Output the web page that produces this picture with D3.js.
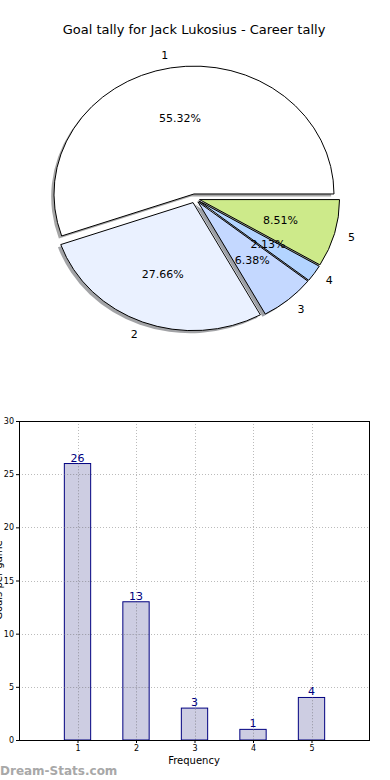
<!DOCTYPE html>
<html><head><meta charset="utf-8">
<script src="https://cdn.jsdelivr.net/npm/d3@7"></script>
<style>body{margin:0;background:#fff}svg{display:block;font-family:"DejaVu Sans",sans-serif}</style>
</head><body>
<script>
const categories = ["1","2","3","4","5"];
const values = [26,13,3,1,4];
const pieColors = ["#ffffff","#eaf1ff","#c4d8ff","#b3d4ff","#cdea8a"];
const yTicks = [0,5,10,15,20,25,30];
const xTicks = [1,2,3,4,5];
const title = "Goal tally for Jack Lukosius - Career tally";

const W=390,H=780;
const svg=d3.select("body").append("svg").attr("width",W).attr("height",H);

svg.append("text").attr("x",194).attr("y",34).attr("text-anchor","middle")
  .attr("font-size",13).text(title);

// ---- Pie ----
const cx=194.8, cy=198.4, rx=140, ry=128, explode=0.035;
const total=d3.sum(values);
const pie=d3.pie().sort(null).startAngle(Math.PI/2).endAngle(Math.PI/2-2*Math.PI);
const arcs=pie(values);
const arc=d3.arc().innerRadius(0).outerRadius(1);
const g=svg.append("g");
arcs.forEach(a=>{
  const mid=(a.startAngle+a.endAngle)/2;
  a.dx=Math.sin(mid); a.dy=-Math.cos(mid);
  a.ox=cx+explode*rx*a.dx; a.oy=cy+explode*ry*a.dy;
});
// shadows
arcs.forEach((a,i)=>{
  const c=d3.rgb(pieColors[i]);
  g.append("path").attr("d",arc(a))
    .attr("transform",`translate(${a.ox-2.8},${a.oy+2.6}) scale(${rx},${ry})`)
    .attr("fill",`rgb(${c.r*0.3},${c.g*0.3},${c.b*0.3})`)
    .attr("fill-opacity",0.5).attr("stroke","none");
});
arcs.forEach((a,i)=>{
  g.append("path").attr("d",arc(a))
    .attr("transform",`translate(${a.ox},${a.oy}) scale(${rx},${ry})`)
    .attr("fill",pieColors[i]).attr("stroke","#000").attr("stroke-width",1)
    .attr("vector-effect","non-scaling-stroke");
});
arcs.forEach((a,i)=>{
  const lx=a.ox+1.1*rx*a.dx, ly=a.oy+1.1*ry*a.dy;
  g.append("text").attr("x",lx).attr("y",ly).attr("dy","0.35em")
    .attr("text-anchor",a.dx>0?"start":"end").attr("font-size",11).text(categories[i]);
  const px=a.ox+0.6*rx*a.dx, py=a.oy+0.6*ry*a.dy;
  g.append("text").attr("x",px).attr("y",py).attr("dy","0.35em")
    .attr("text-anchor","middle").attr("font-size",11)
    .text((values[i]/total*100).toFixed(2)+"%");
});

// ---- Bar chart ----
const L=19,R=370,T=421,B=740;
const x=d3.scaleLinear().domain([0,6]).range([L,R]);
const y=d3.scaleLinear().domain([0,30]).range([B,T]);
const bw=x(0.45)-x(0);
const grid=svg.append("g").attr("stroke","#bbb").attr("stroke-dasharray","1,2").attr("stroke-width",1);
yTicks.forEach(t=>grid.append("line").attr("x1",L).attr("x2",R).attr("y1",Math.round(y(t))+0.5).attr("y2",Math.round(y(t))+0.5));
xTicks.forEach(t=>grid.append("line").attr("y1",T).attr("y2",B).attr("x1",Math.round(x(t))+0.5).attr("x2",Math.round(x(t))+0.5));

svg.append("g").selectAll("rect").data(values).join("rect")
  .attr("x",(d,i)=>x(xTicks[i])-bw/2).attr("width",bw)
  .attr("y",d=>y(d)).attr("height",d=>B-y(d))
  .attr("fill","#8888bb").attr("fill-opacity",0.42).attr("stroke","#000080").attr("stroke-width",1);
const grid2=svg.append("g").attr("stroke","#999").attr("stroke-dasharray","1,2").attr("stroke-opacity",0.5);
xTicks.forEach((t,i)=>grid2.append("line").attr("y1",y(values[i])).attr("y2",B).attr("x1",Math.round(x(t))+0.5).attr("x2",Math.round(x(t))+0.5));
yTicks.forEach(t=>{values.forEach((v,i)=>{ if(v>t && t>0) grid2.append("line").attr("x1",x(xTicks[i])-bw/2).attr("x2",x(xTicks[i])+bw/2).attr("y1",Math.round(y(t))+0.5).attr("y2",Math.round(y(t))+0.5);});});

svg.append("g").selectAll("text").data(values).join("text")
  .attr("x",(d,i)=>x(xTicks[i])).attr("y",d=>y(d)-2).attr("text-anchor","middle")
  .attr("font-size",11).attr("fill","#000080").text(d=>d);

svg.append("rect").attr("x",L+0.5).attr("y",T+0.5).attr("width",R-L-1).attr("height",B-T)
  .attr("fill","none").attr("stroke","#000").attr("stroke-width",1);

const yAxis=d3.axisLeft(y).tickValues(yTicks).tickSize(3).tickPadding(2);
svg.append("g").attr("transform",`translate(${L},0)`).call(yAxis)
  .call(s=>s.select(".domain").remove())
  .call(s=>s.selectAll("text").attr("font-size",8).attr("font-family","DejaVu Sans"));
const xAxis=d3.axisBottom(x).tickValues(xTicks).tickSize(3).tickPadding(2).tickFormat(d3.format("d"));
svg.append("g").attr("transform",`translate(0,${B})`).call(xAxis)
  .call(s=>s.select(".domain").remove())
  .call(s=>s.selectAll("text").attr("font-size",8).attr("font-family","DejaVu Sans"));

svg.append("text").attr("x",194).attr("y",764).attr("text-anchor","middle").attr("font-size",10).text("Frequency");
svg.append("text").attr("transform","translate(2,580) rotate(-90)").attr("text-anchor","middle")
  .attr("font-size",10).text("Goals per game");

svg.append("text").attr("x",0).attr("y",775).attr("font-size",12).attr("font-weight","bold")
  .attr("fill","#a8a8a8").text("Dream-Stats.com");
</script>
</body></html>
